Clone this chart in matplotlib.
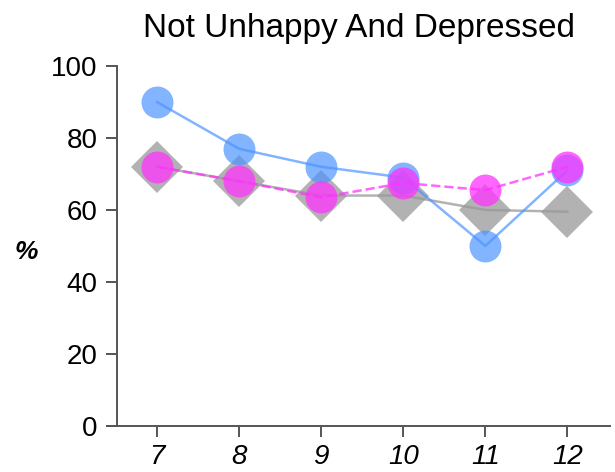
import matplotlib
matplotlib.use('Agg')
import matplotlib.pyplot as plt

plt.rcParams['font.family'] = ['Liberation Sans', 'DejaVu Sans']

# ages on the x axis
ages = [7, 8, 9, 10, 11, 12]

# three series, % not unhappy and depressed
blue_vals = [90, 77, 72, 69, 50, 71]
gray_vals = [72, 68, 64, 64, 60, 59.5]
pink_vals = [72, 68, 63.5, 67.5, 65.5, 72]

y_ticks = [0, 20, 40, 60, 80, 100]

fig = plt.figure(figsize=(6.15, 4.72), dpi=100)
ax = fig.add_axes([0.174, 0.098, 0.818, 0.762])

# gray diamonds first, then blue, then pink on top
ax.plot(ages, gray_vals, color='#999999', alpha=0.75, lw=1.8,
        marker='D', markersize=26, markeredgewidth=0, zorder=2)
ax.plot(ages, blue_vals, color='#4d94ff', alpha=0.7, lw=1.8,
        marker='o', markersize=23, markeredgewidth=0, zorder=3)
ax.plot(ages, pink_vals, color='#ff33ff', alpha=0.75, lw=1.8, ls='--',
        marker='o', markersize=23, markeredgewidth=0, zorder=4)

ax.set_xlim(6.39, 12.52)
ax.set_ylim(0, 100)
ax.set_xticks(ages)
ax.set_xticklabels([str(a) for a in ages], fontstyle='italic')
ax.set_yticks(y_ticks)

for s in ['top', 'right']:
    ax.spines[s].set_visible(False)
ax.spines['left'].set_position(('data', 6.51))
for s in ['left', 'bottom']:
    ax.spines[s].set_color('#555555')
    ax.spines[s].set_linewidth(1.4)

ax.tick_params(axis='both', labelsize=20, length=8, width=1.4, color='#555555')
ax.tick_params(axis='y', pad=6)
ax.tick_params(axis='x', pad=5)

ax.set_title('Not Unhappy And Depressed', fontsize=24, pad=21)
fig.text(0.042, 0.466, '%', fontsize=19, fontweight='bold', fontstyle='italic',
         ha='center', va='center')

fig.savefig('out.png', dpi=100)
